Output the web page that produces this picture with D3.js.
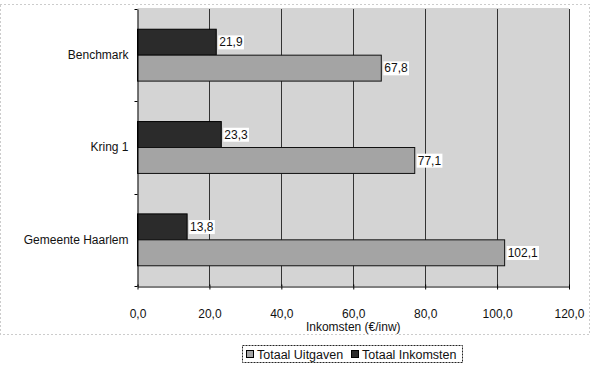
<!DOCTYPE html>
<html><head><meta charset="utf-8">
<script src="https://cdn.jsdelivr.net/npm/d3@7"></script>
<style>body{margin:0;background:#fff}svg{display:block}text{font-family:"Liberation Sans",Arial,sans-serif}</style>
</head><body>
<svg id="c" width="592" height="367"></svg>
<script>
const categories = ["Benchmark", "Kring 1", "Gemeente Haarlem"];
const inkomsten = [21.9, 23.3, 13.8];
const uitgaven = [67.8, 77.1, 102.1];
const xTicks = [0, 20, 40, 60, 80, 100, 120];
const seriesNames = ["Totaal Uitgaven", "Totaal Inkomsten"];
const xTitle = "Inkomsten (€/inw)";

const svg = d3.select("#c");
const FF = '"Liberation Sans",Arial,sans-serif';
const L = 137.5, R = 569, T = 9, B = 286;
const fmt = v => d3.format(".1f")(v).replace(".", ",");

// chart border (dotted)
svg.append("rect").attr("x", 0.5).attr("y", 4.5).attr("width", 589).attr("height", 330)
  .attr("fill", "none").attr("stroke", "#999").attr("stroke-dasharray", "1,3");

const x = d3.scaleLinear().domain([0, 120]).range([L, R]);
const y = d3.scaleBand().domain(categories).range([T, B]);
const sub = d3.scaleBand().domain(["ink", "uit"]).range([0, y.bandwidth()]).paddingOuter(0.78).paddingInner(0);

// plot background
svg.append("rect").attr("x", L).attr("y", T - 1).attr("width", R - L).attr("height", B - T + 1).attr("fill", "#d4d4d4");

// gridlines
svg.append("g").selectAll("line").data(xTicks.slice(1)).join("line")
  .attr("x1", d => Math.round(x(d)) + 0.5).attr("x2", d => Math.round(x(d)) + 0.5)
  .attr("y1", T).attr("y2", B).attr("stroke", "#333").attr("stroke-width", 1);

const g = svg.append("g");
categories.forEach((c, i) => {
  const y0 = y(c);
  g.append("rect").attr("x", x(0)).attr("y", y0 + sub("ink")).attr("width", x(inkomsten[i]) - x(0)).attr("height", sub.bandwidth())
    .attr("fill", "#2b2b2b").attr("stroke", "#000").attr("stroke-width", 1);
  g.append("rect").attr("x", x(0)).attr("y", y0 + sub("uit")).attr("width", x(uitgaven[i]) - x(0)).attr("height", sub.bandwidth())
    .attr("fill", "#a4a4a4").attr("stroke", "#111").attr("stroke-width", 1);
  [[inkomsten[i], "ink"], [uitgaven[i], "uit"]].forEach(([v, k]) => {
    const tx = x(v) + 2, ty = y0 + sub(k) + sub.bandwidth() / 2;
    const t = g.append("text").attr("x", tx + 1).attr("y", ty).attr("dy", "0.35em").attr("font-size", 12).attr("fill", "#111").text(fmt(v));
    const bb = t.node().getBBox();
    g.insert("rect", () => t.node()).attr("x", bb.x - 1).attr("y", bb.y).attr("width", bb.width + 2).attr("height", bb.height).attr("fill", "#fff");
  });
});

// axes
const xa = svg.append("g").attr("transform", `translate(0,${B + 0.5})`)
  .call(d3.axisBottom(x).tickValues(xTicks).tickFormat(fmt).tickSize(3).tickSizeOuter(0));
xa.select(".domain").attr("stroke", "#000");
xa.selectAll(".tick line").attr("stroke", "#000").attr("y1", -2).attr("y2", 3);
xa.selectAll(".tick text").attr("font-size", 12).attr("fill", "#111").attr("y", 0).attr("dy", "2.6em").attr("font-family", FF);

const ya = svg.append("g").attr("transform", `translate(${L},0)`)
  .call(d3.axisLeft(y).tickSize(0).tickPadding(9));
ya.select(".domain").attr("stroke", "#000");
ya.selectAll(".tick text").attr("font-size", 12).attr("fill", "#111").attr("font-family", FF);
const bounds = [T, ...categories.map(c => y(c) + y.bandwidth())];
svg.append("g").selectAll("line").data(bounds).join("line")
  .attr("x1", L - 3).attr("x2", L).attr("y1", d => Math.round(d) + 0.5).attr("y2", d => Math.round(d) + 0.5).attr("stroke", "#000");

// x title
svg.append("text").attr("x", (L + R) / 2).attr("y", 327).attr("dy", "0.35em").attr("text-anchor", "middle")
  .attr("font-size", 12).attr("fill", "#111").text(xTitle);

// legend
const lg = svg.append("g");
lg.append("rect").attr("x", 242.5).attr("y", 345.5).attr("width", 220).attr("height", 17).attr("fill", "#fff").attr("stroke", "#222").attr("stroke-dasharray", "2,1");
const lcolors = ["#a4a4a4", "#2b2b2b"];
const lx = [246, 351];
seriesNames.forEach((n, i) => {
  lg.append("rect").attr("x", lx[i] + 0.5).attr("y", 350.5).attr("width", 7).attr("height", 7).attr("fill", lcolors[i]).attr("stroke", "#000");
  lg.append("text").attr("x", lx[i] + 11).attr("y", 354.5).attr("dy", "0.35em").attr("font-size", 12.5).attr("fill", "#111").text(n);
});
</script>
</body></html>
